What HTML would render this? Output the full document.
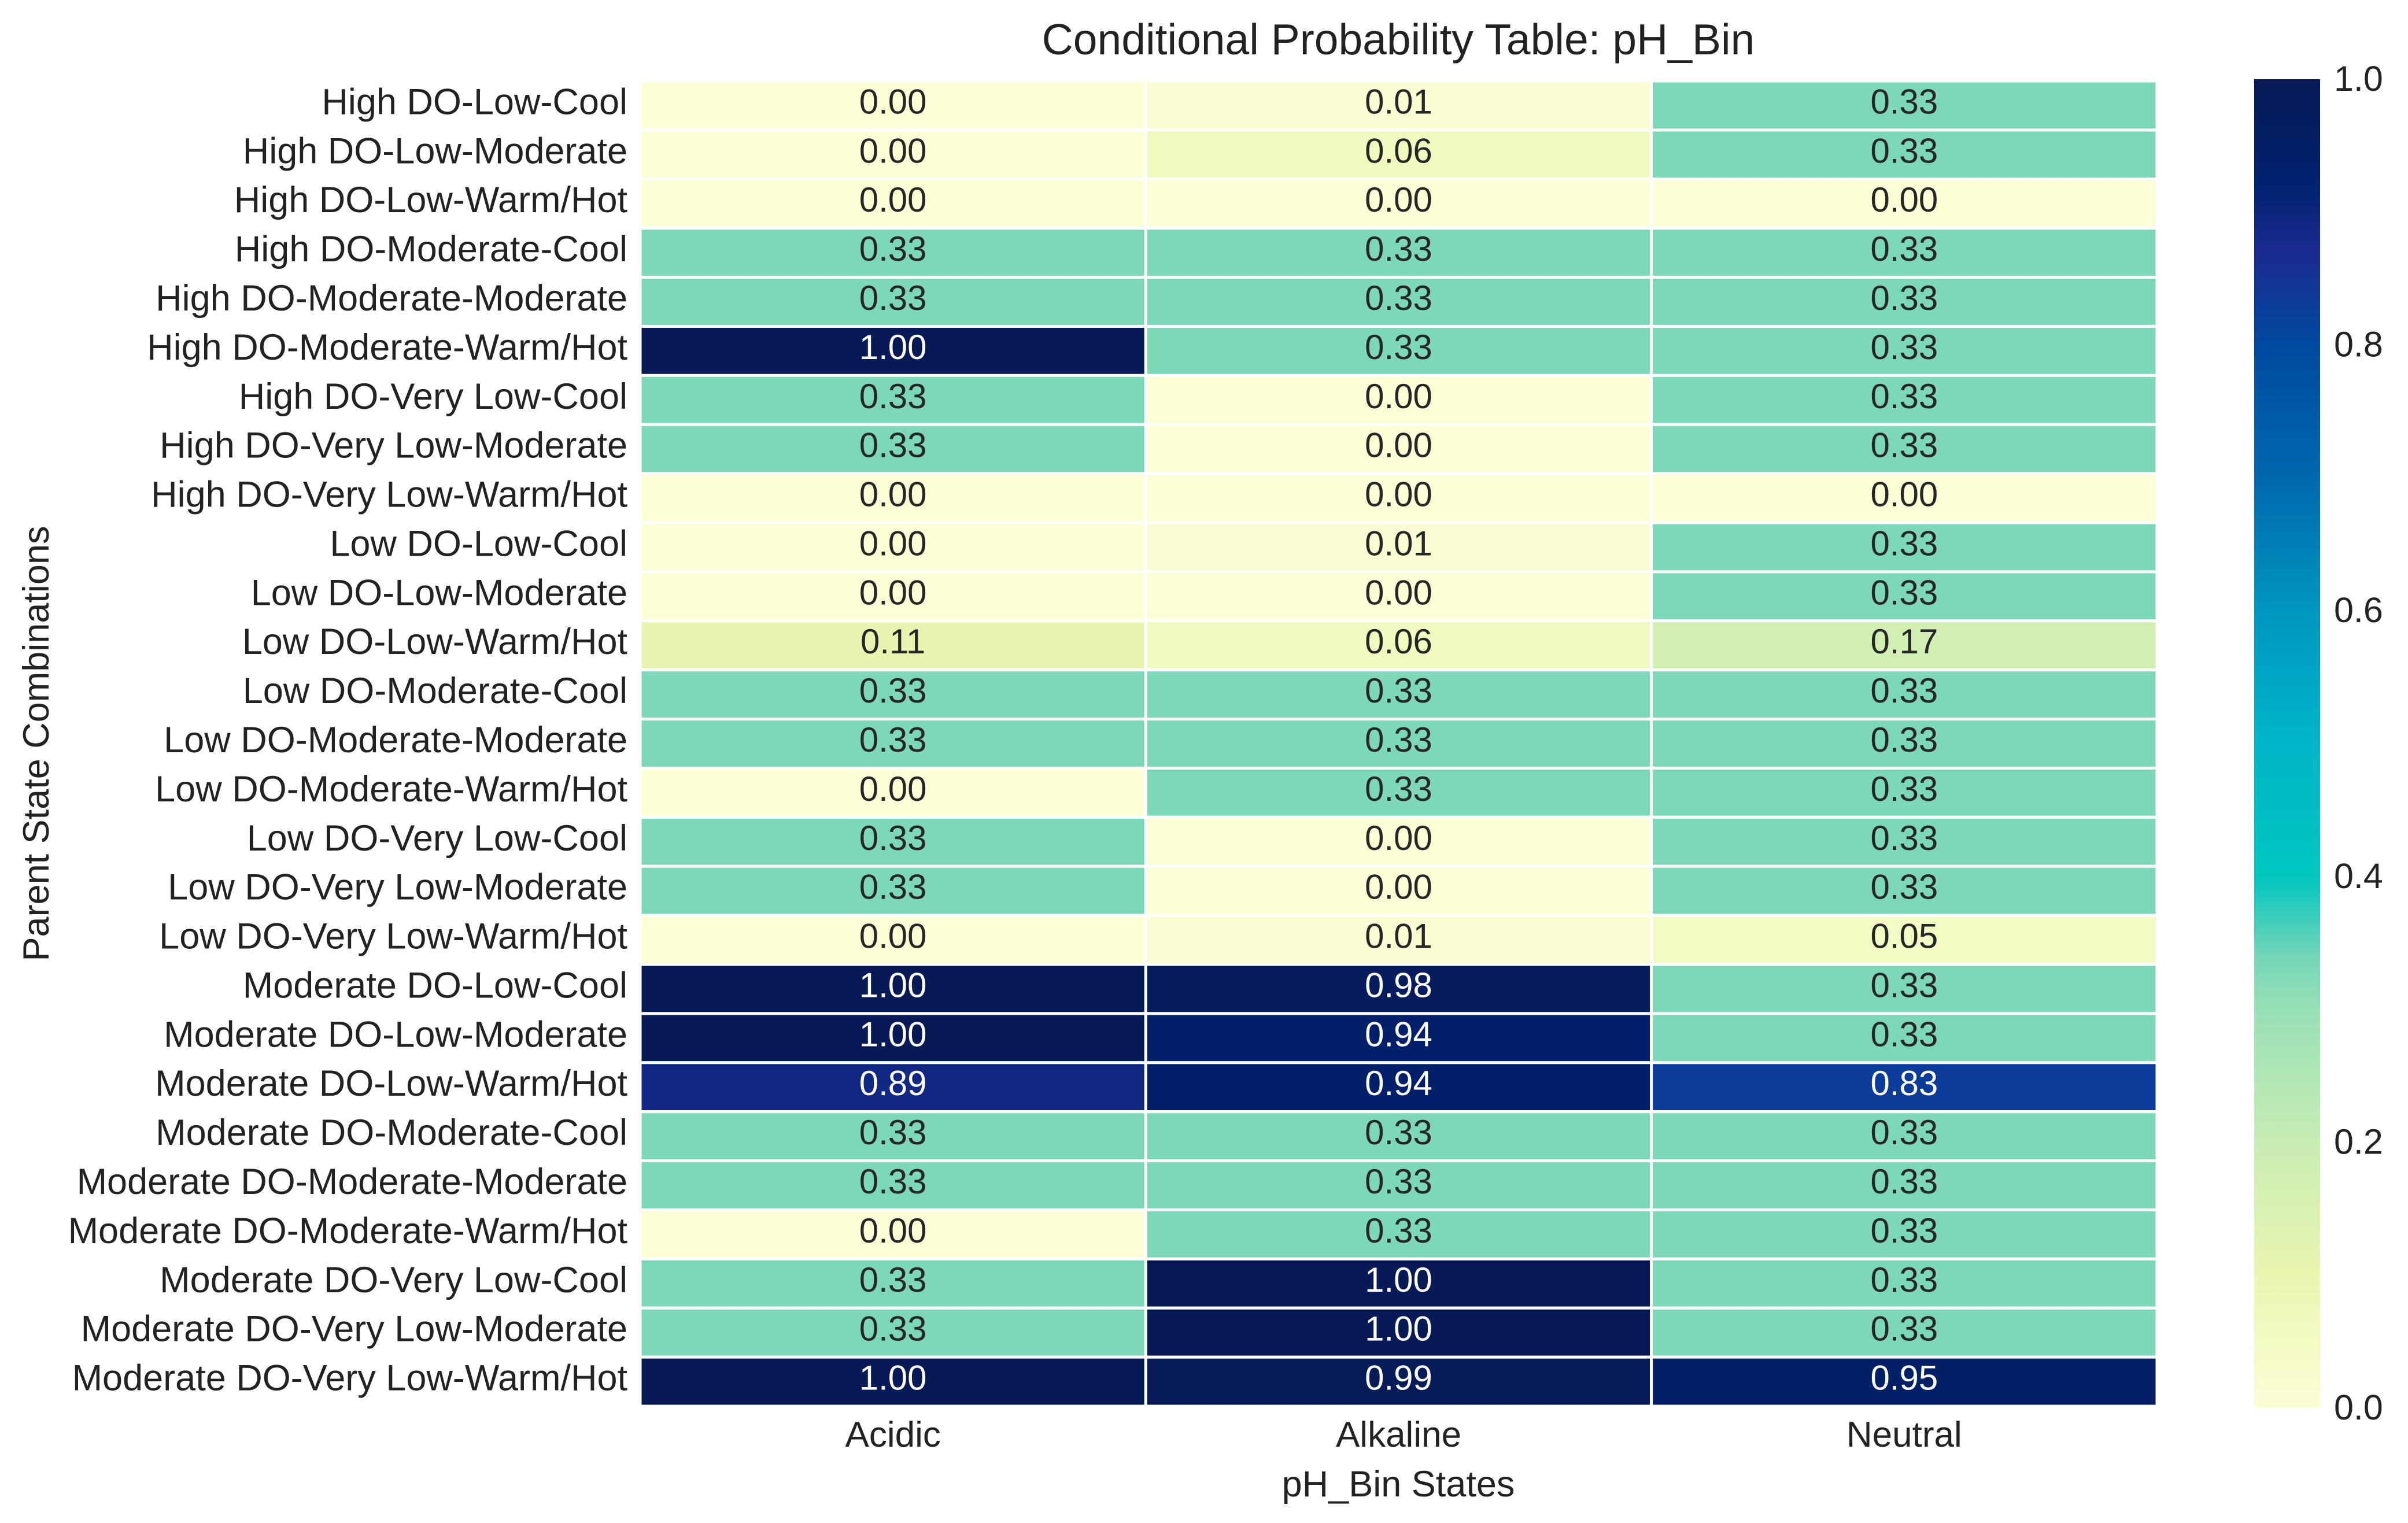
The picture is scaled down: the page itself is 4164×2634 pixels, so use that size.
<!DOCTYPE html>
<html><head><meta charset="utf-8"><style>
body{margin:0;background:#fff}
svg{display:block;font-family:"Liberation Sans",Arial,sans-serif}
</style></head><body>
<svg id="chart" width="4164" height="2634" viewBox="0 0 4164 2634" xmlns="http://www.w3.org/2000/svg">
<defs>
<linearGradient id="cbg" x1="0" y1="1" x2="0" y2="0"></linearGradient>
</defs>
<text x="2418" y="94" font-size="75" text-anchor="middle" fill="#222">Conditional Probability Table: pH_Bin</text>
<text x="2418" y="2588" font-size="63" text-anchor="middle" fill="#222">pH_Bin States</text>
<text transform="translate(84,1286) rotate(-90)" font-size="63" text-anchor="middle" fill="#222">Parent State Combinations</text>
<g id="cells"></g>
<g id="ylabels"></g>
<g id="xlabels"></g>
<g id="cbar"></g>
</svg>
<script>
const rows = ["High DO-Low-Cool","High DO-Low-Moderate","High DO-Low-Warm/Hot","High DO-Moderate-Cool","High DO-Moderate-Moderate","High DO-Moderate-Warm/Hot","High DO-Very Low-Cool","High DO-Very Low-Moderate","High DO-Very Low-Warm/Hot","Low DO-Low-Cool","Low DO-Low-Moderate","Low DO-Low-Warm/Hot","Low DO-Moderate-Cool","Low DO-Moderate-Moderate","Low DO-Moderate-Warm/Hot","Low DO-Very Low-Cool","Low DO-Very Low-Moderate","Low DO-Very Low-Warm/Hot","Moderate DO-Low-Cool","Moderate DO-Low-Moderate","Moderate DO-Low-Warm/Hot","Moderate DO-Moderate-Cool","Moderate DO-Moderate-Moderate","Moderate DO-Moderate-Warm/Hot","Moderate DO-Very Low-Cool","Moderate DO-Very Low-Moderate","Moderate DO-Very Low-Warm/Hot"];
const cols = ["Acidic","Alkaline","Neutral"];
const acidic   = [0,0,0,0.33,0.33,1,0.33,0.33,0,0,0,0.11,0.33,0.33,0,0.33,0.33,0,1,1,0.89,0.33,0.33,0,0.33,0.33,1];
const alkaline = [0.01,0.06,0,0.33,0.33,0.33,0,0,0,0.01,0,0.06,0.33,0.33,0.33,0,0,0.01,0.98,0.94,0.94,0.33,0.33,0.33,1,1,0.99];
const neutral  = [0.33,0.33,0,0.33,0.33,0.33,0.33,0.33,0,0.33,0.33,0.17,0.33,0.33,0.33,0.33,0.33,0.05,0.33,0.33,0.83,0.33,0.33,0.33,0.33,0.33,0.95];
const cbTicks = [0,0.2,0.4,0.6,0.8,1.0];
const cbTickLabels = ["0.0","0.2","0.4","0.6","0.8","1.0"];

const series=[acidic,alkaline,neutral];
const NS="http://www.w3.org/2000/svg";
const L=1107,R=3730,T=140,B=2432;
const cw=(R-L)/cols.length, rh=(B-T)/rows.length;
const xs=i=>L+i*cw, ys=j=>T+j*rh;
const stops=[[0,[253,253,214]],[0.1,[234,246,176]],[0.2,[200,236,180]],[0.3,[152,224,182]],[0.34,[116,213,184]],[0.4,[0,198,192]],[0.5,[0,181,200]],[0.6,[0,150,192]],[0.7,[0,104,173]],[0.8,[0,73,160]],[0.87,[27,42,144]],[0.92,[0,34,112]],[1,[8,26,86]]];
function col(v){for(let k=1;k<stops.length;k++){if(v<=stops[k][0]){const a=stops[k-1],b=stops[k],t=(v-a[0])/(b[0]-a[0]);return 'rgb('+a[1].map((c,i)=>Math.round(c+(b[1][i]-c)*t)).join(',')+')';}}return 'rgb(8,26,86)';}
function mk(tag,attrs,parent){const e=document.createElementNS(NS,tag);for(const k in attrs)e.setAttribute(k,attrs[k]);parent.appendChild(e);return e;}
const cells=document.getElementById('cells');
series.forEach((s,i)=>s.forEach((v,j)=>{
 const r=mk('rect',{x:xs(i),y:ys(j),width:cw,height:rh,fill:col(v),stroke:'#fff','stroke-width':5},cells);
 
 
 const t=mk('text',{x:xs(i)+cw/2,y:ys(j)+rh/2+14,'font-size':60,'text-anchor':'middle',fill:v>0.5?'#fff':'#262626'},cells);
 
 
 t.textContent=v.toFixed(2);
}));
const yl=document.getElementById('ylabels');
rows.forEach((n,j)=>{const t=mk('text',{x:1085,y:ys(j)+rh/2+15,'font-size':63,'text-anchor':'end',fill:'#222'},yl);
 
 
 t.textContent=n;});
const xl=document.getElementById('xlabels');
cols.forEach((n,i)=>{const t=mk('text',{x:xs(i)+cw/2,y:2502,'font-size':62,'text-anchor':'middle',fill:'#222'},xl);
 
 
 t.textContent=n;});
const g=document.getElementById('cbg');
stops.forEach(s=>mk('stop',{offset:s[0],'stop-color':col(s[0])},g));
const cb=document.getElementById('cbar');
const CT=137,CB=2435,CL=3898,CR=4012;
const cy=v=>CB-v*(CB-CT);
const cr=mk('rect',{x:CL,y:CT,width:CR-CL,height:CB-CT,fill:'url(#cbg)'},cb);


cbTicks.forEach((v,k)=>{const t=mk('text',{x:4036,y:cy(v)+20,'font-size':61,fill:'#222'},cb);
 
 
 t.textContent=cbTickLabels[k];});
</script>
</body></html>
